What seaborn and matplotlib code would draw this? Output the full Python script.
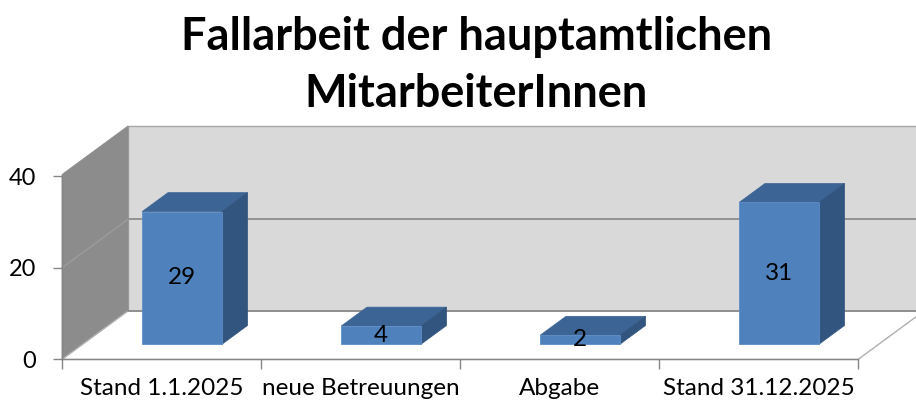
import pandas as pd
import seaborn as sns
import matplotlib.pyplot as plt
from matplotlib.patches import Polygon

title = "Fallarbeit der hauptamtlichen\nMitarbeiterInnen"
categories = ["Stand 1.1.2025", "neue Betreuungen", "Abgabe", "Stand 31.12.2025"]
values = [29, 4, 2, 31]
yticks = [0, 20, 40]

sns.set_theme(style="white")
plt.rcParams['font.family'] = ['Lato', 'DejaVu Sans']
plt.rcParams['text.color'] = 'black'
plt.rcParams['xtick.color'] = 'black'
plt.rcParams['ytick.color'] = 'black'

# fake 3d: depth of the walls in data units, bars sit between b0 and b1 of it
DX, DY = 0.332, 10.6
b0, b1 = 0.31, 0.70
top = 40.4
axis_grey = "#868686"

fig = plt.figure(figsize=(9.16, 4.08), dpi=100)
ax = fig.add_axes([0.0677, 0.119, 0.869, 0.449])
ax.set_facecolor("none")

df = pd.DataFrame({"cat": categories, "val": values})
sns.barplot(data=df, x="cat", y="val", width=0.4, color="#4f81bd", saturation=1,
            ax=ax, zorder=5, edgecolor="#5d8dc6", linewidth=0.6)

# walls and floor
x0, x1 = -0.5, len(categories) - 0.5
ax.add_patch(Polygon([(x0 + DX, DY), (x1 + DX, DY), (x1 + DX, top + DY), (x0 + DX, top + DY)],
                     closed=True, fc="#d9d9d9", ec="#a6a6a6", lw=1, clip_on=False, zorder=0))
ax.add_patch(Polygon([(x0, 0), (x0 + DX, DY), (x0 + DX, top + DY), (x0, top)],
                     closed=True, fc="#8c8c8c", ec="#8c8c8c", lw=0.5, clip_on=False, zorder=0.5))
ax.add_patch(Polygon([(x0, 0), (x1, 0), (x1 + DX, DY), (x0 + DX, DY)],
                     closed=True, fc="white", ec="#b0b0b0", lw=1, clip_on=False, zorder=0.5))
for v in [0, 20]:
    ax.plot([x0 + DX, x1 + DX], [v + DY, v + DY], color="#8c8c8c", lw=1.3, clip_on=False, zorder=1)
ax.plot([x0, x0 + DX], [20, 20 + DY], color="#9c9c9c", lw=1, clip_on=False, zorder=1)

# 3d faces of the bars
dx, dy = (b1 - b0) * DX, (b1 - b0) * DY
bars = list(ax.patches)[:len(values)]
for p, v in zip(bars, values):
    p.set_x(p.get_x() + b0 * DX)
    p.set_y(b0 * DY)
    bx, by, w, h = p.get_x(), p.get_y(), p.get_width(), p.get_height()
    ax.add_patch(Polygon([(bx, by + h), (bx + w, by + h), (bx + w + dx, by + h + dy), (bx + dx, by + h + dy)],
                         closed=True, fc="#3c6494", ec="#3c6494", lw=0.5, zorder=4))
    ax.add_patch(Polygon([(bx + w, by), (bx + w + dx, by + dy), (bx + w + dx, by + h + dy), (bx + w, by + h)],
                         closed=True, fc="#32557f", ec="#32557f", lw=0.5, zorder=4))
    ax.text(bx + w / 2, by + h / 2, str(v), ha="center", va="center", fontsize=17.5, color="black", zorder=6)

ax.set_xlim(x0, x1)
ax.set_ylim(0, 40)
ax.set_xlabel("")
ax.set_ylabel("")
ax.set_yticks(yticks)
ax.set_xticks(range(len(categories)))
ax.set_xticklabels(categories)
ax.set_xticks([x0 + i for i in range(len(categories) + 1)], minor=True)
for s in ["top", "right"]:
    ax.spines[s].set_visible(False)
for s in ["left", "bottom"]:
    ax.spines[s].set_color(axis_grey)
    ax.spines[s].set_linewidth(1)
    ax.spines[s].set_zorder(2)
ax.tick_params(axis="y", left=True, length=6.5, width=1, color=axis_grey, pad=12, labelsize=17,
               labelcolor="black")
ax.tick_params(axis="x", which="major", bottom=False, length=0, pad=13, labelsize=17.5, labelcolor="black")
ax.tick_params(axis="x", which="minor", bottom=True, length=7, width=1, color=axis_grey)

fig.text(0.52, 0.962, title, ha="center", va="top", fontsize=32.5, fontweight="bold",
         linespacing=1.45, color="black")

fig.savefig("out.png", dpi=100)
